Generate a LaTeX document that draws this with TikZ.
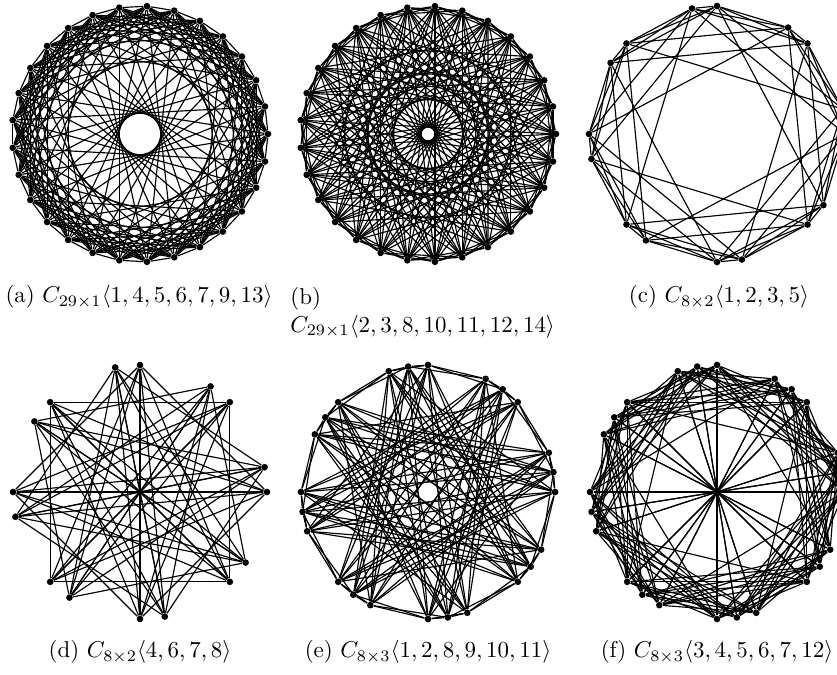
\documentclass[tikz,border=0pt]{standalone}
\usepackage{amsmath,amssymb}
\usetikzlibrary{backgrounds}

\begin{document}
\begin{tikzpicture}[
    x=0.436pt, y=-0.436pt,
    vertex/.style = {circle, fill=black, inner sep=0pt, minimum size=2.9pt},
    edge/.style = {black, line width=0.5pt},
    caption/.style = {inner sep=0pt, font=\normalsize}
]

% Page frame
\useasboundingbox (0,0) rectangle (837,675);

% (a) C_{29x1}<1,4,5,6,7,9,13>
\foreach \v in {0,...,28}
  \node (a\v) [vertex] at ({140+128*cos(\v*360/29)}, {134-128*sin(\v*360/29)}) {};
\begin{scope}[on background layer]
\foreach \v in {0,...,28}
  \foreach \s in {1,4,5,6,7,9,13} {
    \pgfmathtruncatemacro\w{mod(\v+\s,29)}
    \draw [edge] (a\v) -- (a\w);
  }
\end{scope}

% (b) C_{29x1}<2,3,8,10,11,12,14>
\foreach \v in {0,...,28}
  \node (b\v) [vertex] at ({428+128*cos(\v*360/29)}, {134-128*sin(\v*360/29)}) {};
\begin{scope}[on background layer]
\foreach \v in {0,...,28}
  \foreach \s in {2,3,8,10,11,12,14} {
    \pgfmathtruncatemacro\w{mod(\v+\s,29)}
    \draw [edge] (b\v) -- (b\w);
  }
\end{scope}

% (c) C_{8x2}<1,2,3,5>
\foreach \v in {0,...,15} {
  \pgfmathsetmacro\ang{45*floor(\v/2)+11.25*mod(\v,2)}
  \node (c\v) [vertex] at ({717+128*cos(\ang)}, {134-128*sin(\ang)}) {};
}
\begin{scope}[on background layer]
\foreach \v in {0,...,15}
  \foreach \s in {1,2,3,5} {
    \pgfmathtruncatemacro\w{mod(\v+\s,16)}
    \draw [edge] (c\v) -- (c\w);
  }
\end{scope}

% (d) C_{8x2}<4,6,7,8>
\foreach \v in {0,...,15} {
  \pgfmathsetmacro\ang{45*floor(\v/2)+11.25*mod(\v,2)}
  \node (d\v) [vertex] at ({140+127*cos(\ang)}, {492-127*sin(\ang)}) {};
}
\begin{scope}[on background layer]
\foreach \v in {0,...,15}
  \foreach \s in {4,6,7,8} {
    \pgfmathtruncatemacro\w{mod(\v+\s,16)}
    \draw [edge] (d\v) -- (d\w);
  }
\end{scope}

% (e) C_{8x3}<1,2,8,9,10,11>
\foreach \v in {0,...,23} {
  \pgfmathsetmacro\ang{45*floor(\v/3)+9*mod(\v,3)}
  \node (e\v) [vertex] at ({428+127*cos(\ang)}, {492-127*sin(\ang)}) {};
}
\begin{scope}[on background layer]
\foreach \v in {0,...,23}
  \foreach \s in {1,2,8,9,10,11} {
    \pgfmathtruncatemacro\w{mod(\v+\s,24)}
    \draw [edge] (e\v) -- (e\w);
  }
\end{scope}

% (f) C_{8x3}<3,4,5,6,7,12>
\foreach \v in {0,...,23} {
  \pgfmathsetmacro\ang{45*floor(\v/3)+9*mod(\v,3)}
  \node (f\v) [vertex] at ({717+127*cos(\ang)}, {492-127*sin(\ang)}) {};
}
\begin{scope}[on background layer]
\foreach \v in {0,...,23}
  \foreach \s in {3,4,5,6,7,12} {
    \pgfmathtruncatemacro\w{mod(\v+\s,24)}
    \draw [edge] (f\v) -- (f\w);
  }
\end{scope}

% Captions
\node (capa) [caption] at (139,297) {(a) $C_{29\times 1}\langle 1,4,5,6,7,9,13\rangle$};
\node (capb) [caption, anchor=north west, align=left] at (290,287) {(b)\\$C_{29\times 1}\langle 2,3,8,10,11,12,14\rangle$};
\node (capc) [caption] at (719,297) {(c) $C_{8\times 2}\langle 1,2,3,5\rangle$};
\node (capd) [caption] at (140,652) {(d) $C_{8\times 2}\langle 4,6,7,8\rangle$};
\node (cape) [caption] at (428,652) {(e) $C_{8\times 3}\langle 1,2,8,9,10,11\rangle$};
\node (capf) [caption] at (717,652) {(f) $C_{8\times 3}\langle 3,4,5,6,7,12\rangle$};

\end{tikzpicture}
\end{document}
